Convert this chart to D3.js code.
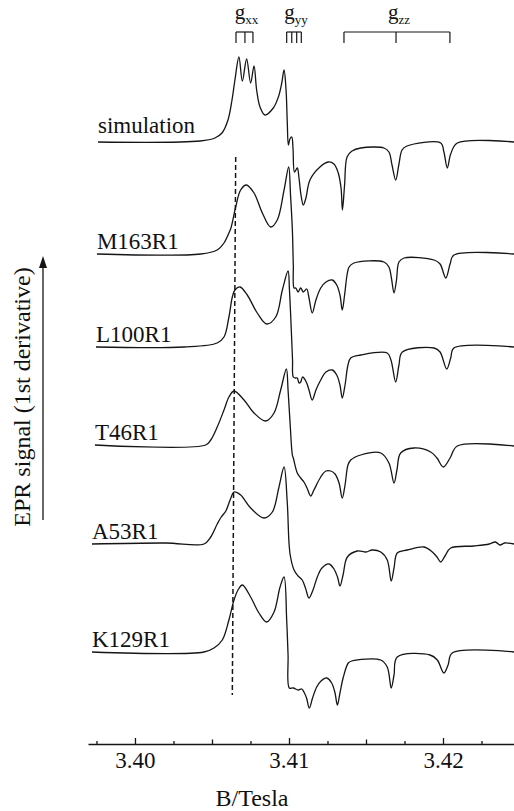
<!DOCTYPE html>
<html>
<head>
<meta charset="utf-8">
<script src="https://cdn.jsdelivr.net/npm/d3@7"></script>
<style>
  html, body { margin: 0; padding: 0; background: #fff; }
  svg { display: block; }
  svg text { font-family: 'Liberation Serif', 'Times New Roman', Times, 'DejaVu Serif', serif; fill: #111; }
  .trace { fill: none; stroke: #151515; stroke-width: 1.3; stroke-linejoin: round; }
  .guide { fill: none; stroke: #151515; stroke-width: 1.5; stroke-dasharray: 5 3; }
  .bracket { fill: none; stroke: #151515; stroke-width: 1.2; }
  .axis path, .axis line { stroke: #151515; stroke-width: 1.3; }
  .axis text { font-size: 23px; }
</style>
</head>
<body>
<div id="chart"></div>
<script>
/* global d3 */

// spectra, top to bottom; offsets are the vertical stacking in signal units
var spectrumNames = ['simulation', 'M163R1', 'L100R1', 'T46R1', 'A53R1', 'K129R1'];
var spectrumOffsets = [510, 398, 305, 207, 108, 0];

// [B (Tesla), signal (a.u.)]
var simulation = [[3.39760,0],[3.40422,1],[3.40519,4],[3.40565,9],[3.40604,22],[3.40630,42],[3.40649,62],[3.40675,85],[3.40697,61],[3.40725,83],[3.40751,59],[3.40773,76],[3.40790,52],[3.40812,35],[3.40844,27],[3.40898,34],[3.40931,45],[3.40953,59],[3.40968,72],[3.40981,52],[3.40989,19],[3.40996,-3],[3.41006,3],[3.41018,5],[3.41026,-6],[3.41036,-30],[3.41054,-26],[3.41065,-36],[3.41078,-53],[3.41093,-63],[3.41110,-56],[3.41136,-38],[3.41201,-25],[3.41255,-20],[3.41292,-22],[3.41318,-30],[3.41338,-46],[3.41347,-68],[3.41361,-43],[3.41377,-15],[3.41409,-9],[3.41466,-6],[3.41617,-6],[3.41649,-10],[3.41669,-23],[3.41693,-38],[3.41714,-22],[3.41734,-8],[3.41766,-4],[3.41985,-1],[3.42006,-10],[3.42028,-26],[3.42050,-12],[3.42093,-1],[3.42461,0]];
var m163r1 = [[3.39753,0],[3.40427,0],[3.40534,4],[3.40578,11],[3.40610,21],[3.40623,26],[3.40654,47],[3.40686,64],[3.40723,69],[3.40773,61],[3.40827,41],[3.40881,27],[3.40924,34],[3.40968,64],[3.40998,87],[3.41010,59],[3.41022,24],[3.41028,-11],[3.41033,-34],[3.41044,-34],[3.41059,-38],[3.41076,-34],[3.41093,-38],[3.41115,-35],[3.41130,-44],[3.41151,-59],[3.41175,-46],[3.41206,-34],[3.41240,-28],[3.41281,-26],[3.41310,-31],[3.41331,-41],[3.41346,-56],[3.41361,-41],[3.41377,-21],[3.41390,-13],[3.41422,-9],[3.41617,-8],[3.41649,-13],[3.41665,-24],[3.41682,-39],[3.41698,-26],[3.41714,-8],[3.41747,-4],[3.41942,-6],[3.41981,-10],[3.42018,-24],[3.42046,-10],[3.42071,-1],[3.42461,0]];
var l100r1 = [[3.39747,0],[3.40318,0],[3.40534,4],[3.40578,10],[3.40610,30],[3.40632,50],[3.40649,57],[3.40682,60],[3.40729,52],[3.40794,34],[3.40855,23],[3.40914,30],[3.40957,57],[3.40994,76],[3.41003,57],[3.41015,17],[3.41023,-13],[3.41028,-30],[3.41042,-31],[3.41054,-31],[3.41065,-36],[3.41076,-35],[3.41088,-30],[3.41097,-31],[3.41115,-36],[3.41130,-43],[3.41151,-53],[3.41175,-43],[3.41206,-33],[3.41240,-25],[3.41281,-23],[3.41310,-28],[3.41331,-38],[3.41346,-51],[3.41364,-38],[3.41383,-18],[3.41401,-11],[3.41466,-8],[3.41638,-6],[3.41662,-13],[3.41693,-35],[3.41714,-18],[3.41736,-5],[3.41942,-1],[3.41981,-5],[3.42024,-22],[3.42050,-11],[3.42071,-1],[3.42461,0]];
var t46r1 = [[3.39740,0],[3.40459,0],[3.40492,5],[3.40534,18],[3.40578,35],[3.40610,48],[3.40643,54],[3.40708,45],[3.40773,32],[3.40849,24],[3.40903,32],[3.40946,55],[3.40983,76],[3.40994,55],[3.41006,25],[3.41022,-10],[3.41028,-13],[3.41054,-28],[3.41076,-33],[3.41097,-37],[3.41117,-43],[3.41141,-51],[3.41162,-45],[3.41206,-32],[3.41240,-26],[3.41271,-26],[3.41299,-29],[3.41325,-38],[3.41346,-53],[3.41364,-40],[3.41383,-20],[3.41401,-15],[3.41466,-10],[3.41596,-8],[3.41649,-18],[3.41682,-38],[3.41701,-25],[3.41725,-8],[3.41812,-3],[3.41920,-7],[3.41961,-13],[3.42002,-22],[3.42046,-13],[3.42093,-1],[3.42461,-1]];
var a53r1 = [[3.39721,0],[3.40200,1],[3.40448,0],[3.40492,7],[3.40534,20],[3.40560,27],[3.40590,33],[3.40620,45],[3.40643,52],[3.40686,49],[3.40751,36],[3.40838,26],[3.40892,32],[3.40935,57],[3.40968,77],[3.40989,41],[3.41006,-9],[3.41033,-26],[3.41059,-32],[3.41086,-36],[3.41107,-44],[3.41130,-54],[3.41156,-46],[3.41184,-33],[3.41214,-24],[3.41260,-20],[3.41292,-25],[3.41315,-33],[3.41331,-42],[3.41351,-31],[3.41379,-13],[3.41444,-7],[3.41500,-8],[3.41540,-6],[3.41596,-8],[3.41638,-16],[3.41664,-37],[3.41682,-24],[3.41703,-9],[3.41768,-6],[3.41877,-3],[3.41931,-8],[3.41961,-13],[3.41985,-18],[3.42013,-12],[3.42050,-4],[3.42200,-2],[3.42300,0],[3.42340,2],[3.42370,-1],[3.42400,1],[3.42461,0]];
var k129r1 = [[3.39721,0],[3.40448,0],[3.40513,4],[3.40567,12],[3.40610,32],[3.40643,52],[3.40669,62],[3.40697,67],[3.40751,55],[3.40805,39],[3.40855,30],[3.40903,40],[3.40942,65],[3.40968,75],[3.40985,32],[3.40994,-3],[3.41002,-36],[3.41028,-36],[3.41060,-38],[3.41083,-37],[3.41097,-40],[3.41114,-46],[3.41132,-56],[3.41153,-46],[3.41180,-35],[3.41208,-29],[3.41245,-26],[3.41277,-31],[3.41299,-41],[3.41314,-53],[3.41331,-41],[3.41353,-25],[3.41385,-11],[3.41407,-9],[3.41596,-8],[3.41638,-15],[3.41664,-36],[3.41682,-23],[3.41703,-5],[3.41916,-3],[3.41963,-8],[3.42006,-21],[3.42033,-13],[3.42060,-1],[3.42461,0]];
var spectra = [simulation, m163r1, l100r1, t46r1, a53r1, k129r1];

// dashed reference line at the g_xx feature, [B, stacked signal]
var guideLine = [[3.40654, 495], [3.40632, -43]];

// hyperfine stick positions above the spectra
var gxxSticks = [3.40656, 3.40714, 3.40766];
var gyySticks = [3.40985, 3.41018, 3.41050, 3.41080];
var gzzSticks = [3.41357, 3.41695, 3.42045];
var gLabels = ['xx', 'yy', 'zz'];

var majorTicks = [3.40, 3.41, 3.42];
var midTicks = [3.405, 3.415];
var minorTicks = [3.3975, 3.4025, 3.4075, 3.4125, 3.4175, 3.4225];

var width = 514, height = 811;
var axisY = 744;

var svg = d3.select('#chart').append('svg')
    .attr('width', width)
    .attr('height', height);

var x = d3.scaleLinear().domain([3.39695, 3.42461]).range([88, 514]);
var y = d3.scaleLinear().domain([0, 510]).range([652, 142]);

var line = d3.line()
    .x(function (d) { return x(d[0]); })
    .y(function (d) { return d[1]; })
    .curve(d3.curveCatmullRom.alpha(0.5));

// spectra
spectra.forEach(function (data, i) {
  var off = spectrumOffsets[i];
  var pts = data.map(function (d) { return [d[0], y(d[1] + off)]; });
  svg.append('path')
      .attr('class', 'trace')
      .attr('d', line(pts));

  svg.append('text')
      .attr('x', x(data[0][0]))
      .attr('y', y(off) - (i === 0 ? 9 : 5))
      .style('font-size', '23px')
      .text(spectrumNames[i]);
});

// dashed guide
svg.append('path')
    .attr('class', 'guide')
    .attr('d', d3.line()
      .x(function (d) { return x(d[0]); })
      .y(function (d) { return y(d[1]); })(guideLine));

// g-tensor brackets
[gxxSticks, gyySticks, gzzSticks].forEach(function (sticks, i) {
  var x0 = x(sticks[0]), x1 = x(sticks[sticks.length - 1]);
  var g = svg.append('g').attr('class', 'bracket');
  g.append('line').attr('x1', x0).attr('x2', x1).attr('y1', 32).attr('y2', 32);
  sticks.forEach(function (s) {
    g.append('line').attr('x1', x(s)).attr('x2', x(s)).attr('y1', 32).attr('y2', 43);
  });
  var t = svg.append('text')
      .attr('x', (x0 + x1) / 2 + 2)
      .attr('y', 19)
      .attr('text-anchor', 'middle')
      .style('font-size', '21px');
  t.append('tspan').text('g');
  t.append('tspan').style('font-size', '13px').attr('dy', 5).text(gLabels[i]);
});

// field axis
function fieldAxis(values, size, labels) {
  var ax = d3.axisBottom(x)
      .tickValues(values)
      .tickSizeInner(-size)
      .tickSizeOuter(0)
      .tickPadding(8)
      .tickFormat(labels ? d3.format('.2f') : '');
  return svg.append('g')
      .attr('class', 'axis')
      .attr('transform', 'translate(0,' + axisY + ')')
      .call(ax);
}
fieldAxis(minorTicks, 3, false).select('.domain').remove();
fieldAxis(midTicks, 4.5, false).select('.domain').remove();
fieldAxis(majorTicks, 6, true);

svg.append('text')
    .attr('x', 252)
    .attr('y', 806)
    .attr('text-anchor', 'middle')
    .style('font-size', '24px')
    .text('B/Tesla');

// signal label with upward arrow
svg.append('text')
    .attr('transform', 'translate(30,397) rotate(-90)')
    .attr('text-anchor', 'middle')
    .style('font-size', '24px')
    .text('EPR signal (1st derivative)');

svg.append('line')
    .attr('x1', 43).attr('x2', 43)
    .attr('y1', 520).attr('y2', 265)
    .attr('stroke', '#151515')
    .attr('stroke-width', 1.3);
svg.append('path')
    .attr('d', 'M43,256 L39,268 L47,268 Z')
    .attr('fill', '#151515');
</script>
</body>
</html>
